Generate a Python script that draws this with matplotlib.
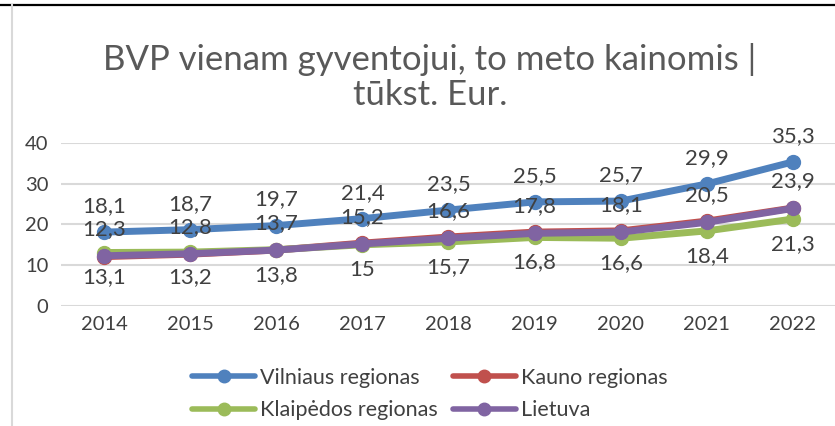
import matplotlib
matplotlib.use("Agg")
import matplotlib.pyplot as plt
from matplotlib.lines import Line2D

plt.rcParams["font.family"] = ["Lato", "DejaVu Sans"]

# ── data ─────────────────────────────────────────────
years = [2014, 2015, 2016, 2017, 2018, 2019, 2020, 2021, 2022]
vilnius = [18.1, 18.7, 19.7, 21.4, 23.5, 25.5, 25.7, 29.9, 35.3]
kaunas = [12.1, 12.7, 13.7, 15.4, 16.9, 18.1, 18.4, 20.8, 24.0]
klaipeda = [13.1, 13.2, 13.8, 15.0, 15.7, 16.8, 16.6, 18.4, 21.3]
lietuva = [12.3, 12.8, 13.7, 15.2, 16.6, 17.8, 18.1, 20.5, 23.9]

series_names = ["Vilniaus regionas", "Kauno regionas", "Klaipėdos regionas", "Lietuva"]
yticks = [0, 10, 20, 30, 40]

TXT = "#404040"
BLUE, RED, GREEN, PURPLE = "#4F81BD", "#C0504D", "#9BBB59", "#8064A2"


def fmt(v):
    s = f"{v:.1f}".replace(".", ",")
    return s[:-2] if s.endswith(",0") else s


fig = plt.figure(figsize=(8.35, 4.26), dpi=100)
fig.patch.set_facecolor("white")
ax = fig.add_axes([61 / 835, (426 - 306) / 426, (836 - 61) / 835, (306 - 142.7) / 426])

x = list(range(len(years)))
kw = dict(lw=5, marker="o", ms=10, solid_capstyle="round")
l_vil, = ax.plot(x, vilnius, color=BLUE, zorder=3, **kw)
l_kau, = ax.plot(x, kaunas, color=RED, zorder=3, **kw)
l_kla, = ax.plot(x, klaipeda, color=GREEN, zorder=3, **kw)
l_lie, = ax.plot(x, lietuva, color=PURPLE, zorder=4, **kw)

# data labels
lab_fs = 16
for xi, v in zip(x, vilnius):
    ax.annotate(fmt(v), (xi, v), xytext=(0, 26), textcoords="offset pixels",
                ha="center", va="center", fontsize=lab_fs, color=TXT, zorder=5)
for xi, v in zip(x, lietuva):
    ax.annotate(fmt(v), (xi, v), xytext=(0, 27), textcoords="offset pixels",
                ha="center", va="center", fontsize=lab_fs, color=TXT, zorder=5)
for xi, v in zip(x, klaipeda):
    ax.annotate(fmt(v), (xi, v), xytext=(0, -25), textcoords="offset pixels",
                ha="center", va="center", fontsize=lab_fs, color=TXT, zorder=5)

ax.set_xlim(-0.5, len(years) - 0.5)
ax.set_ylim(0, 40)
ax.set_yticks(yticks)
ax.set_xticks(x)
ax.set_xticklabels([str(y) for y in years])
ax.tick_params(axis="both", length=0, labelsize=14.5, colors=TXT)
ax.tick_params(axis="y", pad=9)
ax.tick_params(axis="x", pad=7)
ax.grid(axis="y", color="#D9D9D9", lw=1.5, zorder=0)
for sp in ax.spines.values():
    sp.set_visible(False)

fig.text(0.515, 1 - 77 / 426, "BVP vienam gyventojui, to meto kainomis |\ntūkst. Eur.",
         ha="center", va="center", fontsize=25, color="#595959", linespacing=1.15)

handles = [l_vil, l_kla, l_kau, l_lie]
labels = [series_names[0], series_names[2], series_names[1], series_names[3]]
leg = fig.legend(handles, labels, ncol=2, loc="center", bbox_to_anchor=(0.515, 1 - 394 / 426),
                 frameon=False, fontsize=15.5, labelcolor=TXT, handlelength=2.9,
                 handletextpad=0.25, columnspacing=0.7, labelspacing=0.6)
for h in leg.legend_handles:
    h.set_linewidth(4)
    h.set_markersize(9)

# chart frame edges
fig.add_artist(Line2D([0, 1], [1 - 4.5 / 426, 1 - 4.5 / 426], color="black", lw=1.6))
fig.add_artist(Line2D([12 / 835, 12 / 835], [0, 1 - 4.5 / 426], color="#D9D9D9", lw=1.5))

fig.savefig("out.png", dpi=100, facecolor="white")
